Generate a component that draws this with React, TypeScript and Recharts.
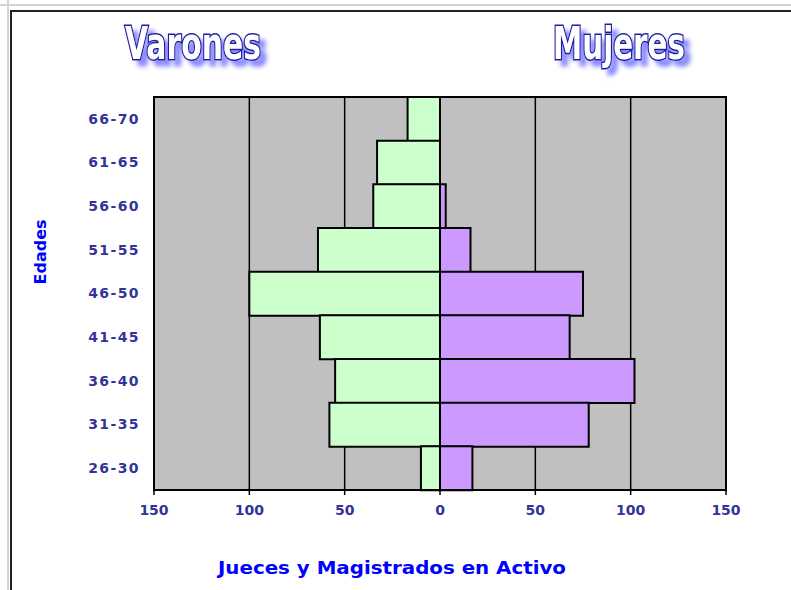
import { BarChart, Bar, XAxis, YAxis, CartesianGrid, ReferenceArea } from 'recharts';

const ages = ['66-70', '61-65', '56-60', '51-55', '46-50', '41-45', '36-40', '31-35', '26-30'];
const varones = [17, 33, 35, 64, 100, 63, 55, 58, 10];
const mujeres = [0, 0, 3, 16, 75, 68, 102, 78, 17];
const xTicks = [-150, -100, -50, 0, 50, 100, 150];

// varones drawn to the left as negative values
const data = ages.map((age, i) => ({ age, varones: -varones[i], mujeres: mujeres[i] }));

const tickFont = { fontFamily: '"DejaVu Sans", sans-serif', fontWeight: 'bold', fontSize: 14, fill: '#333399' };

function Title({ x, y, text, len }: { x: number; y: number; text: string; len: number }) {
  return (
    <text
      x={x}
      y={y}
      fontFamily='"Liberation Sans Narrow", "DejaVu Sans Condensed", "Liberation Sans", sans-serif'
      fontWeight="bold"
      fontSize={44}
      textLength={len}
      lengthAdjust="spacingAndGlyphs"
      fill="#ffffff"
      stroke="#1c1c9c"
      strokeWidth={3}
      paintOrder="stroke"
      filter="url(#shadow)"
    >
      {text}
    </text>
  );
}

export default function App() {
  return (
    <div style={{ position: 'absolute', left: 0, top: 0, width: 791, height: 590, background: '#fff' }}>
      <BarChart
        width={791}
        height={590}
        data={data}
        layout="vertical"
        stackOffset="sign"
        barCategoryGap={0}
        margin={{ top: 97, right: 65, left: 0, bottom: 70 }}
      >
        <CartesianGrid horizontal={false} fill="#c0c0c0" stroke="#000" strokeWidth={1.5} />
        <XAxis
          type="number"
          domain={[-150, 150]}
          ticks={xTicks}
          tickFormatter={(v: number) => String(Math.abs(v))}
          height={30}
          tickSize={5}
          tickMargin={10}
          axisLine={{ stroke: '#000', strokeWidth: 2 }}
          tickLine={{ stroke: '#000', strokeWidth: 1.5 }}
          tick={tickFont}
        />
        <YAxis
          type="category"
          dataKey="age"
          width={154}
          axisLine={false}
          tickLine={false}
          tickSize={0}
          tickMargin={14}
          tick={{ ...tickFont, letterSpacing: 1.4 }}
        />
        <Bar dataKey="varones" stackId="a" fill="#ccffcc" stroke="#000" strokeWidth={2} isAnimationActive={false} />
        <Bar dataKey="mujeres" stackId="a" fill="#cc99ff" stroke="#000" strokeWidth={2} isAnimationActive={false} />
        <ReferenceArea x1={-150} x2={150} fill="none" fillOpacity={0} stroke="#000" strokeWidth={2} ifOverflow="extendDomain" />
      </BarChart>
      <svg width={791} height={590} style={{ position: 'absolute', left: 0, top: 0, pointerEvents: 'none' }}>
        <defs>
          <filter id="shadow" x="-10%" y="-30%" width="125%" height="170%">
            <feGaussianBlur in="SourceAlpha" stdDeviation="2" result="b" />
            <feOffset in="b" dx="6" dy="6" result="o" />
            <feFlood floodColor="#8c8cff" />
            <feComposite in2="o" operator="in" result="s" />
            <feMerge>
              <feMergeNode in="s" />
              <feMergeNode in="SourceGraphic" />
            </feMerge>
          </filter>
        </defs>
        <line x1={0} y1={5} x2={791} y2={5} stroke="#d4d4d4" strokeWidth={2} />
        <line x1={8} y1={0} x2={8} y2={590} stroke="#d4d4d4" strokeWidth={2} />
        <line x1={11} y1={11} x2={791} y2={11} stroke="#222" strokeWidth={2} />
        <line x1={11} y1={10} x2={11} y2={590} stroke="#222" strokeWidth={2} />
        <Title x={125} y={59} text="Varones" len={136} />
        <Title x={553} y={59} text="Mujeres" len={132} />
        <text
          transform="translate(46,252) rotate(-90)"
          textAnchor="middle"
          fontFamily='"DejaVu Sans", sans-serif'
          fontWeight="bold"
          fontSize={16}
          fill="#0000ff"
        >
          Edades
        </text>
        <text
          x={392}
          y={574}
          textAnchor="middle"
          fontFamily='"DejaVu Sans", sans-serif'
          fontWeight="bold"
          fontSize={17}
          fill="#0000ff"
          textLength={348}
          lengthAdjust="spacingAndGlyphs"
        >
          Jueces y Magistrados en Activo
        </text>
      </svg>
    </div>
  );
}
